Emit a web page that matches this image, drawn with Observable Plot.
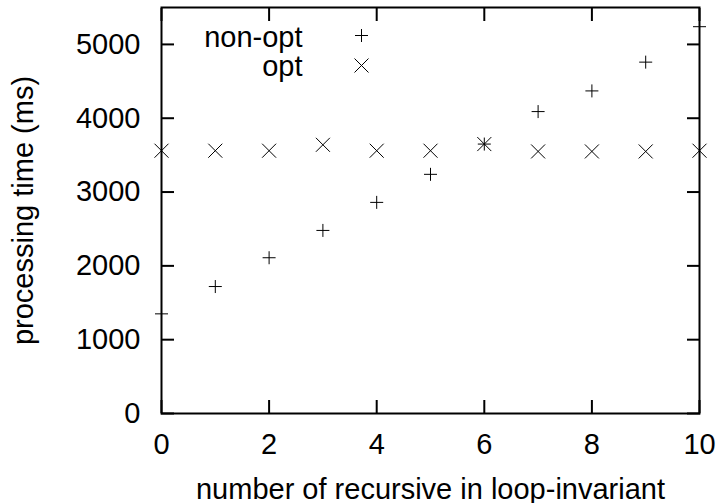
<!DOCTYPE html>
<html><head><meta charset="utf-8">
<script src="https://cdn.jsdelivr.net/npm/d3@7"></script>
<script src="https://cdn.jsdelivr.net/npm/@observablehq/plot@0.6"></script>
<style>body{margin:0;background:#fff} svg{display:block}</style>
</head><body><div id="chart"></div>
<script>
const xs = [0, 1, 2, 3, 4, 5, 6, 7, 8, 9, 10];
const nonOpt = [1350, 1720, 2110, 2480, 2860, 3240, 3650, 4090, 4370, 4760, 5240];
const opt = [3560, 3560, 3560, 3640, 3560, 3560, 3650, 3550, 3550, 3550, 3560];
const xTicks = [0, 2, 4, 6, 8, 10];
const yTicks = [0, 1000, 2000, 3000, 4000, 5000];
const seriesNames = ["non-opt", "opt"];

const plusSym = {draw(ctx) {const h = 6.5; ctx.moveTo(-h, 0); ctx.lineTo(h, 0); ctx.moveTo(0, -h); ctx.lineTo(0, h);}};
const timesSym = {draw(ctx) {const h = 7; ctx.moveTo(-h, -h); ctx.lineTo(h, h); ctx.moveTo(-h, h); ctx.lineTo(h, -h);}};

const nonOptRows = xs.map((x, i) => ({x, y: nonOpt[i]}));
const optRows = xs.map((x, i) => ({x, y: opt[i]}));

const chart = Plot.plot({
  width: 721,
  height: 503,
  marginLeft: 161,
  marginRight: 22,
  marginTop: 7,
  marginBottom: 90,
  style: {fontFamily: "'Liberation Sans', Arial, sans-serif", fontSize: "29px", color: "#000", background: "#fff"},
  x: {domain: [0, 10]},
  y: {domain: [0, 5500]},
  marks: [
    Plot.axisX({ticks: xTicks, tickFormat: d3.format("d"), tickSize: -13, tickPadding: 33, strokeWidth: 2,
      label: "number of recursive in loop-invariant", labelAnchor: "center", labelArrow: "none", labelOffset: 85}),
    Plot.axisX({anchor: "top", ticks: xTicks, tickSize: -13, strokeWidth: 2, fill: "none"}),
    Plot.axisY({ticks: yTicks, tickFormat: d3.format("d"), tickSize: -13, tickPadding: 34, strokeWidth: 2,
      label: "processing time (ms)", labelAnchor: "center", labelArrow: "none", labelOffset: 149}),
    Plot.axisY({anchor: "right", ticks: yTicks, tickSize: -13, strokeWidth: 2, fill: "none"}),
    Plot.frame({stroke: "#000", strokeWidth: 2}),
    Plot.dot(nonOptRows, {x: "x", y: "y", symbol: plusSym, r: 5, fill: "none", stroke: "#000", strokeWidth: 1}),
    Plot.dot(optRows, {x: "x", y: "y", symbol: timesSym, r: 5, fill: "none", stroke: "#000", strokeWidth: 1}),
    // legend (key) inside the frame, top-left
    Plot.text([seriesNames[0]], {text: d => d, frameAnchor: "top-left", textAnchor: "end", lineAnchor: "middle", dx: 141, dy: 30}),
    Plot.text([seriesNames[1]], {text: d => d, frameAnchor: "top-left", textAnchor: "end", lineAnchor: "middle", dx: 141, dy: 59}),
    Plot.dot([seriesNames[0]], {frameAnchor: "top-left", symbol: plusSym, r: 5, fill: "none", stroke: "#000", strokeWidth: 1, dx: 200, dy: 28}),
    Plot.dot([seriesNames[1]], {frameAnchor: "top-left", symbol: timesSym, r: 5, fill: "none", stroke: "#000", strokeWidth: 1, dx: 200, dy: 58})
  ]
});
document.getElementById("chart").appendChild(chart);
</script>
</body></html>
